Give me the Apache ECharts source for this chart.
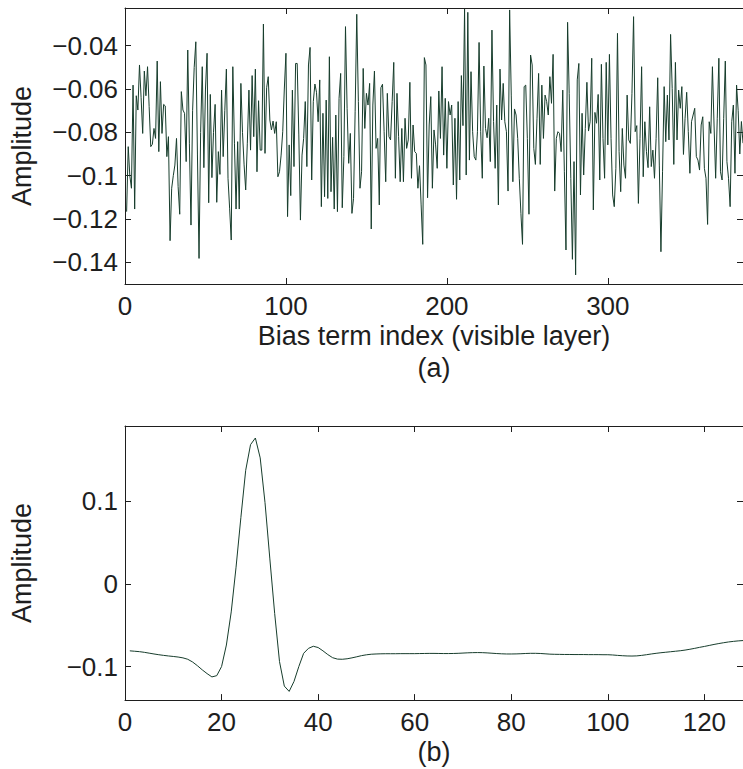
<!DOCTYPE html>
<html>
<head>
<meta charset="utf-8">
<script src="https://cdn.jsdelivr.net/npm/echarts@6/dist/echarts.min.js"></script>
<style>html,body{margin:0;padding:0;background:#fff}#c{width:743px;height:769px}</style>
</head>
<body>
<div id="c"></div>
<script>
// ---- data: (a) visible-layer bias terms, index 1..384 ----
const biasIndexMax = 384;
const biasValues = [
-0.1166,-0.0866,-0.1000,-0.1058,-0.0582,-0.1154,-0.0631,-0.0697,-0.0489,-0.0640,
-0.0805,-0.0517,-0.0631,-0.0497,-0.0680,-0.0866,-0.0855,-0.0782,-0.0828,-0.0471,
-0.0889,-0.0566,-0.0805,-0.0671,-0.0678,-0.0912,-0.0820,-0.1300,-0.1058,-0.1000,
-0.0951,-0.0828,-0.1050,-0.1178,-0.0612,-0.0697,-0.0712,-0.0935,-0.0420,-0.0850,
-0.1228,-0.0700,-0.0500,-0.0382,-0.0900,-0.1382,-0.0800,-0.0497,-0.0963,-0.0600,
-0.0435,-0.1125,-0.0625,-0.1009,-0.0800,-0.0671,-0.1123,-0.0889,-0.0994,-0.0605,
-0.0912,-0.0700,-0.0508,-0.1012,-0.1150,-0.1297,-0.0497,-0.0850,-0.1154,-0.0843,
-0.1154,-0.0574,-0.0800,-0.0950,-0.1066,-0.0850,-0.0605,-0.0882,-0.0538,-0.0820,
-0.0508,-0.0982,-0.0654,-0.0882,-0.0882,-0.0300,-0.0897,-0.0594,-0.0543,-0.0743,
-0.0789,-0.0748,-0.0805,-0.0751,-0.1005,-0.0982,-0.0905,-0.0797,-0.0600,-0.0435,
-0.1189,-0.0858,-0.1092,-0.0605,-0.0958,-0.0482,-0.0482,-0.0812,-0.1205,-0.0905,
-0.0828,-0.0658,-0.0958,-0.0489,-0.0408,-0.1020,-0.0658,-0.0577,-0.0615,-0.0751,
-0.0558,-0.1143,-0.0712,-0.1097,-0.0651,-0.1105,-0.0451,-0.1074,-0.0823,-0.1154,
-0.0720,-0.1166,-0.0643,-0.0528,-0.1148,-0.0912,-0.0312,-0.0689,-0.0943,-0.0805,
-0.1174,-0.1105,-0.0705,-0.0255,-0.0658,-0.1058,-0.0982,-0.0505,-0.0782,-0.0620,
-0.0674,-0.0574,-0.1246,-0.0674,-0.0517,-0.0874,-0.0828,-0.1135,-0.0594,-0.0578,
-0.0797,-0.1028,-0.0620,-0.0820,-0.0835,-0.0658,-0.0477,-0.1012,-0.0620,-0.0820,
-0.1028,-0.0782,-0.1028,-0.0735,-0.0874,-0.0835,-0.0569,-0.1012,-0.0766,-0.0889,
-0.0897,-0.1058,-0.0954,-0.1135,-0.1317,-0.0455,-0.0489,-0.1102,-0.0766,-0.0635,
-0.1058,-0.0789,-0.0858,-0.0966,-0.0609,-0.0828,-0.0497,-0.0905,-0.0643,-0.0966,
-0.0658,-0.0720,-0.0674,-0.1043,-0.0735,-0.1109,-0.0658,-0.1020,-0.0538,-0.0769,
-0.0231,-0.0997,-0.0246,-0.0928,-0.0520,-0.0797,-0.0912,-0.0928,-0.0797,-0.0385,
-0.0797,-0.1012,-0.0494,-0.0782,-0.0825,-0.0735,-0.0935,-0.0328,-0.0750,-0.0966,
-0.0674,-0.1135,-0.0508,-0.0743,-0.0574,-0.0751,-0.0797,-0.1071,-0.0235,-0.0628,
-0.1028,-0.0692,-0.0720,-0.0828,-0.1012,-0.1174,-0.1317,-0.0589,-0.0582,-0.0828,
-0.1178,-0.0443,-0.0489,-0.0874,-0.0948,-0.0735,-0.0528,-0.0948,-0.0582,-0.0828,
-0.0628,-0.0658,-0.0720,-0.0543,-0.0666,-0.0440,-0.1071,-0.0828,-0.0797,-0.0805,
-0.0889,-0.0605,-0.0982,-0.1343,-0.0292,-0.0620,-0.1012,-0.1386,-0.0935,-0.1458,
-0.0558,-0.0482,-0.1089,-0.0712,-0.0997,-0.0782,-0.0569,-0.0794,-0.0751,-0.0458,
-0.1158,-0.0708,-0.0758,-0.0625,-0.1020,-0.0486,-0.0828,-0.1012,-0.0477,-0.0858,
-0.0440,-0.0828,-0.1089,-0.1143,-0.0966,-0.0343,-0.0889,-0.1074,-0.0782,-0.0951,
-0.1012,-0.0628,-0.0835,-0.0851,-0.0620,-0.0266,-0.0797,-0.0769,-0.1128,-0.0828,
-0.0497,-0.1005,-0.0751,-0.0889,-0.0963,-0.0682,-0.0958,-0.0882,-0.1012,-0.0828,
-0.0548,-0.0951,-0.1351,-0.0982,-0.0589,-0.0843,-0.0628,-0.0835,-0.0348,-0.0597,
-0.0948,-0.0477,-0.0835,-0.0605,-0.0689,-0.0589,-0.0902,-0.0735,-0.0615,-0.0797,
-0.0989,-0.0751,-0.0720,-0.0689,-0.0912,-0.0928,-0.0974,-0.0766,-0.0728,-0.0966,
-0.1012,-0.1225,-0.0751,-0.0805,-0.0497,-0.0766,-0.1012,-0.0735,-0.0458,-0.0982,
-0.1020,-0.0735,-0.0471,-0.0935,-0.1012,-0.1143,-0.0751,-0.0674,-0.0989,-0.0582,
-0.0700,-0.0900,-0.0750,-0.0850
];

// ---- data: (b) filter profile, index 1..128 ----
const filterIndexMax = 128;
const filterValues = [
-0.0810,-0.0815,-0.0820,-0.0828,-0.0838,-0.0848,-0.0857,-0.0865,-0.0872,-0.0878,
-0.0885,-0.0895,-0.0912,-0.0945,-0.0990,-0.1040,-0.1085,-0.1125,-0.1110,-0.1000,
-0.0740,-0.0340, 0.0200, 0.0800, 0.1370, 0.1680, 0.1760, 0.1520, 0.0980, 0.0300,
-0.0360,-0.0940,-0.1236,-0.1300,-0.1180,-0.1000,-0.0840,-0.0780,-0.0755,-0.0770,
-0.0810,-0.0855,-0.0893,-0.0910,-0.0912,-0.0906,-0.0895,-0.0882,-0.0868,-0.0858,
-0.0851,-0.0848,-0.0846,-0.0845,-0.0845,-0.0845,-0.0844,-0.0844,-0.0844,-0.0844,
-0.0843,-0.0842,-0.0841,-0.0841,-0.0842,-0.0843,-0.0843,-0.0842,-0.0840,-0.0837,
-0.0834,-0.0832,-0.0831,-0.0832,-0.0835,-0.0839,-0.0843,-0.0846,-0.0848,-0.0848,
-0.0847,-0.0845,-0.0842,-0.0840,-0.0840,-0.0842,-0.0846,-0.0850,-0.0852,-0.0853,
-0.0854,-0.0854,-0.0855,-0.0855,-0.0855,-0.0856,-0.0856,-0.0856,-0.0857,-0.0857,
-0.0860,-0.0865,-0.0869,-0.0872,-0.0873,-0.0871,-0.0865,-0.0857,-0.0848,-0.0840,
-0.0833,-0.0827,-0.0821,-0.0815,-0.0809,-0.0801,-0.0791,-0.0780,-0.0768,-0.0757,
-0.0745,-0.0733,-0.0722,-0.0712,-0.0703,-0.0696,-0.0690,-0.0686
];

// ---- axes: ranges and tick labels ----
const topXTicks = [0, 100, 200, 300];
const topYTicks = [-0.14, -0.12, -0.1, -0.08, -0.06, -0.04];
const topYRange = [-0.15, -0.0226];
const botXTicks = [0, 20, 40, 60, 80, 100, 120];
const botYTicks = [-0.1, 0, 0.1];
const botYRange = [-0.1405, 0.1905];

const topXLabel = 'Bias term index (visible layer)';
const topCaption = '(a)';
const botCaption = '(b)';
const yLabel = 'Amplitude';

// ---- styling ----
const FONT = "'Liberation Sans', Arial, Helvetica, sans-serif";
const FS = 26;
const NAME_FS = 27;
const INK = '#1e1e1e';
const LINE = '#173d2c';
const fmt = v => String(+(+v).toFixed(4)).replace('-', '\u2212');

function xAx(grid, max, ticks, pos, name, gap) {
  const main = pos === 'bottom';
  return {
    type: 'value', gridIndex: grid, position: pos, min: 0, max: max,
    axisLine: { show: true, onZero: false, lineStyle: { color: INK, width: 1 } },
    axisTick: { show: true, inside: true, length: 6, customValues: ticks, lineStyle: { color: INK, width: 1 } },
    axisLabel: { show: main, customValues: ticks, formatter: fmt, margin: 9,
      fontFamily: FONT, fontSize: FS, color: INK },
    splitLine: { show: false },
    name: main ? name : '', nameLocation: 'middle', nameGap: gap,
    nameTextStyle: { fontFamily: FONT, fontSize: NAME_FS, color: INK, lineHeight: 32 }
  };
}
function yAx(grid, range, ticks, pos) {
  const main = pos === 'left';
  return {
    type: 'value', gridIndex: grid, position: pos, min: range[0], max: range[1],
    axisLine: { show: true, onZero: false, lineStyle: { color: INK, width: 1 } },
    axisTick: { show: true, inside: true, length: 6, customValues: ticks, lineStyle: { color: INK, width: 1 } },
    axisLabel: { show: main, customValues: ticks, formatter: fmt, margin: 7,
      fontFamily: FONT, fontSize: FS, color: INK },
    splitLine: { show: false },
    name: main ? yLabel : '', nameLocation: 'middle', nameGap: 90,
    nameTextStyle: { fontFamily: FONT, fontSize: NAME_FS, color: INK }
  };
}

const chart = echarts.init(document.getElementById('c'), null, { renderer: 'svg' });
chart.setOption({
  animation: false,
  backgroundColor: '#fff',
  grid: [
    { left: 125, top: 8, width: 624, height: 276 },
    { left: 125, top: 426, width: 624, height: 276 }
  ],
  xAxis: [
    xAx(0, biasIndexMax, topXTicks, 'bottom', topXLabel + '\n' + topCaption, 36),
    xAx(0, biasIndexMax, topXTicks, 'top'),
    xAx(1, filterIndexMax, botXTicks, 'bottom', botCaption, 27),
    xAx(1, filterIndexMax, botXTicks, 'top')
  ],
  yAxis: [
    yAx(0, topYRange, topYTicks, 'left'),
    yAx(0, topYRange, topYTicks, 'right'),
    yAx(1, botYRange, botYTicks, 'left'),
    yAx(1, botYRange, botYTicks, 'right')
  ],
  series: [
    { type: 'line', xAxisIndex: 0, yAxisIndex: 0, showSymbol: false, silent: true,
      lineStyle: { color: LINE, width: 1 },
      data: biasValues.map((v, i) => [i + 1, v]) },
    { type: 'line', xAxisIndex: 2, yAxisIndex: 2, showSymbol: false, silent: true,
      lineStyle: { color: LINE, width: 1 },
      data: filterValues.map((v, i) => [i + 1, v]) }
  ]
});
</script>
</body>
</html>
